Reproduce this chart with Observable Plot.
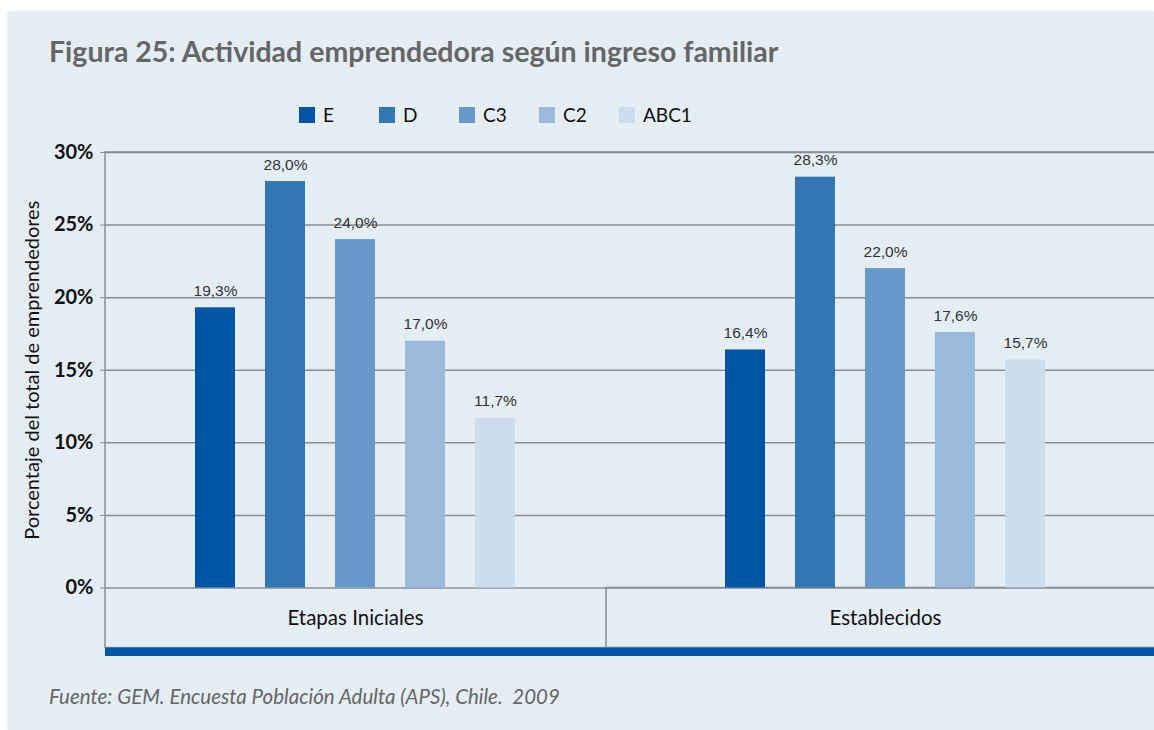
<!DOCTYPE html>
<html><head><meta charset="utf-8">
<script src="https://cdn.jsdelivr.net/npm/d3@7"></script>
<script src="https://cdn.jsdelivr.net/npm/@observablehq/plot@0.6"></script>
<style>
html,body{margin:0;padding:0;background:#fff;overflow:hidden;width:1154px;height:730px}
#panel{position:absolute;left:8px;top:12px;width:1146px;height:718px;background:#e5edf5;overflow:hidden;box-shadow:0 0 3px rgba(0,0,0,0.12)}
#title{position:absolute;left:41px;top:22px;font:bold 28.5px Lato;color:#666;white-space:nowrap}
#legend{position:absolute;left:291px;top:92px;display:flex;font:19px Lato;color:#111;line-height:22px}
.item{width:80px;display:flex;align-items:center}
.sw{width:16px;height:16px;margin-right:8px}
#chart{position:absolute;left:0;top:128px}
#chart svg{max-width:none}
#caption{position:absolute;left:41px;top:672px;font:italic 20.5px Lato;color:#666;white-space:pre}
</style></head>
<body>
<div id="panel">
  <div id="title">Figura 25: Actividad emprendedora según ingreso familiar</div>
  <div id="legend"></div>
  <div id="chart"></div>
  <div id="caption">Fuente: GEM. Encuesta Población Adulta (APS), Chile.  2009</div>
</div>
<script>
const groups = ["Etapas Iniciales", "Establecidos"];
const series = ["E", "D", "C3", "C2", "ABC1"];
const etapasIniciales = [19.3, 28.0, 24.0, 17.0, 11.7];
const establecidos = [16.4, 28.3, 22.0, 17.6, 15.7];
const colors = ["#0055a5", "#3376b6", "#6699c9", "#99badb", "#ccdded"];
const yTicks = [0, 5, 10, 15, 20, 25, 30];
const yLabel = "Porcentaje del total de emprendedores";

const values = [etapasIniciales, establecidos];
const rows = [];
groups.forEach((g, gi) => series.forEach((s, si) => rows.push({group: g, series: s, value: values[gi][si]})));
const fmt = v => v.toFixed(1).replace(".", ",") + "%";

// legend
const legend = document.getElementById("legend");
series.forEach((s, i) => {
  const it = document.createElement("div");
  it.className = "item";
  const sw = document.createElement("span");
  sw.className = "sw";
  sw.style.background = colors[i];
  it.appendChild(sw);
  it.appendChild(document.createTextNode(s));
  legend.appendChild(it);
});

const bandDepth = 4.14, stripeDepth = 0.58;
const gray = "#8a8e94";
const chart = Plot.plot({
  width: 1157, height: 516,
  marginLeft: 97, marginRight: 0, marginTop: 12, marginBottom: 0,
  style: {background: "transparent", overflow: "visible", fontFamily: "Lato", maxWidth: "none"},
  fx: {domain: groups, paddingInner: 0, paddingOuter: 0, axis: null},
  x: {domain: series, paddingInner: 0.4286, paddingOuter: 1.5, align: 0.4286, axis: null},
  y: {domain: [-(bandDepth + stripeDepth), 30], axis: null},
  color: {domain: series, range: colors},
  marks: [
    Plot.gridY(yTicks, {stroke: gray, strokeOpacity: 1, strokeWidth: 1.5}),
    Plot.rect([{group: groups[1]}], {fx: "group", y1: -bandDepth, y2: 0, insetLeft: -29, fill: "none", stroke: gray, strokeWidth: 1.5}),
    Plot.rect([{group: groups[0]}], {fx: "group", y1: -bandDepth, y2: 30, insetRight: -900, fill: "none", stroke: gray, strokeWidth: 1.5}),
    Plot.rect(groups.map(g => ({group: g})), {fx: "group", y1: -bandDepth, y2: -(bandDepth + stripeDepth), fill: "#0055a5"}),
    Plot.barY(rows, {fx: "group", x: "series", y: "value", fill: "series"}),
    Plot.text(rows, {fx: "group", x: "series", y: "value", text: d => fmt(d.value), lineAnchor: "bottom", dy: -12, fontSize: 15.5, fontFamily: "Liberation Sans, Arial, sans-serif", fill: "#333"}),
    Plot.axisY(yTicks, {tickSize: 5, tickPadding: 7, tickFormat: d => d + "%", fontSize: 20, fontWeight: "bold", fontFamily: "Lato", fill: "#111", stroke: gray, label: null}),
    Plot.text(groups.map(g => ({group: g})), {fx: "group", x: () => series[2], y: -bandDepth / 2, text: "group", fontSize: 20.5, fontFamily: "Lato", fill: "#111"}),
    Plot.text([{group: groups[0], t: yLabel}], {fx: "group", y: 15, frameAnchor: "left", textAnchor: "middle", rotate: -90, dx: -73, text: "t", fontSize: 20, fontFamily: "Lato", fill: "#111"})
  ]
});
document.getElementById("chart").appendChild(chart);
</script>
</body></html>
